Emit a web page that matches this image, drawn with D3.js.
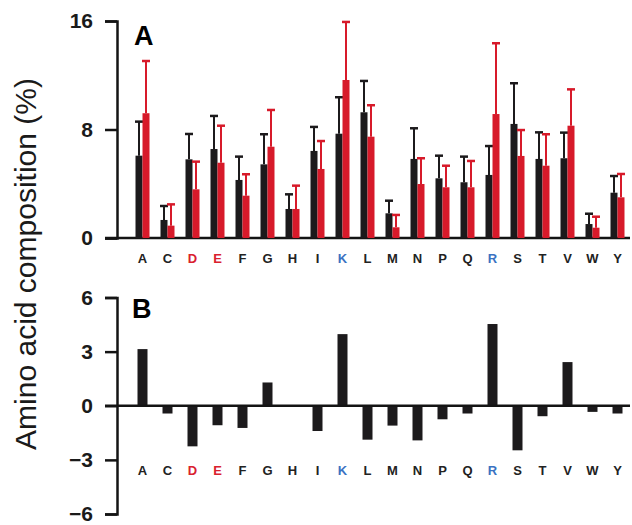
<!DOCTYPE html>
<html lang="en">
<head>
    <meta charset="UTF-8">
    <title>Amino acid composition</title>
    <script src="https://d3js.org/d3.v7.min.js"></script>
    <style>
        body { margin: 0; background: #fff; }
        text { font-family: 'Liberation Sans', Arial, sans-serif; fill: #1a1a1a; }
        .axis path, .axis line { stroke: #141414; stroke-width: 2.5; }
        .axis text { font-size: 21px; font-weight: bold; }
    </style>
</head>
<body>
<script>
    const width  = 632;
    const height = 525;

    const residues = ["A","C","D","E","F","G","H","I","K","L","M","N","P","Q","R","S","T","V","W","Y"];
    // panel A: mean and upper error bar, two groups
    const blackMean = [6.07,1.33,5.80,6.56,4.28,5.43,2.14,6.42,7.69,9.27,1.82,5.83,4.40,4.11,4.65,8.41,5.83,5.88,1.03,3.34];
    const blackErr  = [8.58,2.36,7.67,9.00,6.00,7.65,3.22,8.19,10.38,11.58,2.75,8.09,6.07,6.00,6.78,11.41,7.79,7.77,1.79,4.57];
    const redMean   = [9.20,0.91,3.59,5.55,3.12,6.73,2.14,5.09,11.65,7.47,0.79,3.98,3.74,3.74,9.14,6.05,5.33,8.28,0.76,3.00];
    const redErr    = [13.05,2.48,5.63,8.28,4.70,9.44,3.86,7.15,15.93,9.79,1.70,5.88,5.33,5.68,14.36,7.96,7.65,10.96,1.57,4.72];
    // panel B: difference
    const diff = [3.14,-0.43,-2.25,-1.08,-1.23,1.29,0,-1.40,3.97,-1.88,-1.10,-1.92,-0.75,-0.43,4.53,-2.47,-0.58,2.42,-0.34,-0.43];
    const ticksA = [0, 8, 16];
    const ticksB = [-6, -3, 0, 3, 6];
    const acidic = ["D","E"];
    const basic  = ["K","R"];

    const colBlack = "#1c1a1c";
    const colRed = "#d71a2a";
    const labelColor = r => acidic.includes(r) ? "#d9212e" : basic.includes(r) ? "#3a72c2" : "#222";

    const svg = d3.select("body").append("svg").attr("width", width).attr("height", height);

    const x = d3.scaleBand().domain(residues).range([130, 630]).padding(0);
    const sub = d3.scaleBand().domain(["black","red"]).range([-7, 7]);

    const yA = d3.scaleLinear().domain([0, 16]).range([238, 21]);
    const yB = d3.scaleLinear().domain([-6, 6]).range([514, 297.5]);

    const axisX = 117;

    // ---- panel A
    const gA = svg.append("g");
    gA.append("line")
        .attr("x1", 105).attr("x2", 630)
        .attr("y1", yA(0)).attr("y2", yA(0))
        .attr("stroke", "#141414").attr("stroke-width", 2.5);
    gA.append("g").attr("class", "axis")
        .attr("transform", `translate(${axisX},0)`)
        .call(d3.axisLeft(yA).tickValues(ticksA).tickSize(12).tickPadding(12).tickFormat(d3.format("d")))
        .call(g => g.selectAll("path").attr("fill", "none"));

    const groups = [
        {key: "black", mean: blackMean, err: blackErr, color: colBlack},
        {key: "red", mean: redMean, err: redErr, color: colRed}
    ];

    groups.forEach(s => {
        const rows = residues.map((r, i) => ({r, m: s.mean[i], e: s.err[i]}));
        const cx = d => x(d.r) + x.bandwidth() / 2 + sub(s.key) + sub.bandwidth() / 2;
        gA.append("g").selectAll("line.err").data(rows).join("line")
            .attr("x1", cx).attr("x2", cx)
            .attr("y1", d => yA(d.m)).attr("y2", d => yA(d.e))
            .attr("stroke", s.color).attr("stroke-width", 2);
        gA.append("g").selectAll("line.cap").data(rows).join("line")
            .attr("x1", d => cx(d) - 4).attr("x2", d => cx(d) + 4)
            .attr("y1", d => yA(d.e)).attr("y2", d => yA(d.e))
            .attr("stroke", s.color).attr("stroke-width", 2.5);
        gA.append("g").selectAll("rect").data(rows).join("rect")
            .attr("x", d => x(d.r) + x.bandwidth() / 2 + sub(s.key))
            .attr("width", sub.bandwidth())
            .attr("y", d => yA(d.m))
            .attr("height", d => yA(0) - yA(d.m))
            .attr("fill", s.color);
    });

    gA.append("g").selectAll("text").data(residues).join("text")
        .attr("x", d => x(d) + x.bandwidth() / 2)
        .attr("y", 263)
        .attr("text-anchor", "middle")
        .style("font-size", "13px").style("font-weight", "bold")
        .style("fill", labelColor)
        .text(d => d);

    gA.append("text").attr("x", 134).attr("y", 45)
        .style("font-size", "27px").style("font-weight", "bold").style("fill", "#000")
        .text("A");

    // ---- panel B
    const gB = svg.append("g");
    gB.selectAll("rect").data(residues).join("rect")
        .attr("x", d => x(d) + x.bandwidth() / 2 - 5)
        .attr("width", 10)
        .attr("y", (d, i) => yB(Math.max(0, diff[i])))
        .attr("height", (d, i) => Math.abs(yB(diff[i]) - yB(0)))
        .attr("fill", colBlack);
    gB.append("line")
        .attr("x1", 105).attr("x2", 630)
        .attr("y1", yB(0)).attr("y2", yB(0))
        .attr("stroke", "#141414").attr("stroke-width", 2.5);
    gB.append("g").attr("class", "axis")
        .attr("transform", `translate(${axisX},0)`)
        .call(d3.axisLeft(yB).tickValues(ticksB).tickSize(12).tickPadding(12).tickFormat(d3.format("d")))
        .call(g => g.selectAll("path").attr("fill", "none"));

    gB.append("g").selectAll("text").data(residues).join("text")
        .attr("x", d => x(d) + x.bandwidth() / 2)
        .attr("y", 475)
        .attr("text-anchor", "middle")
        .style("font-size", "13px").style("font-weight", "bold")
        .style("fill", labelColor)
        .text(d => d);

    gB.append("text").attr("x", 132).attr("y", 318)
        .style("font-size", "27px").style("font-weight", "bold").style("fill", "#000")
        .text("B");

    // shared y label
    svg.append("text")
        .attr("transform", "translate(36,264) rotate(-90)")
        .attr("text-anchor", "middle")
        .style("font-size", "30px").style("fill", "#1a1a1a")
        .text("Amino acid composition (%)");
</script>
</body>
</html>
